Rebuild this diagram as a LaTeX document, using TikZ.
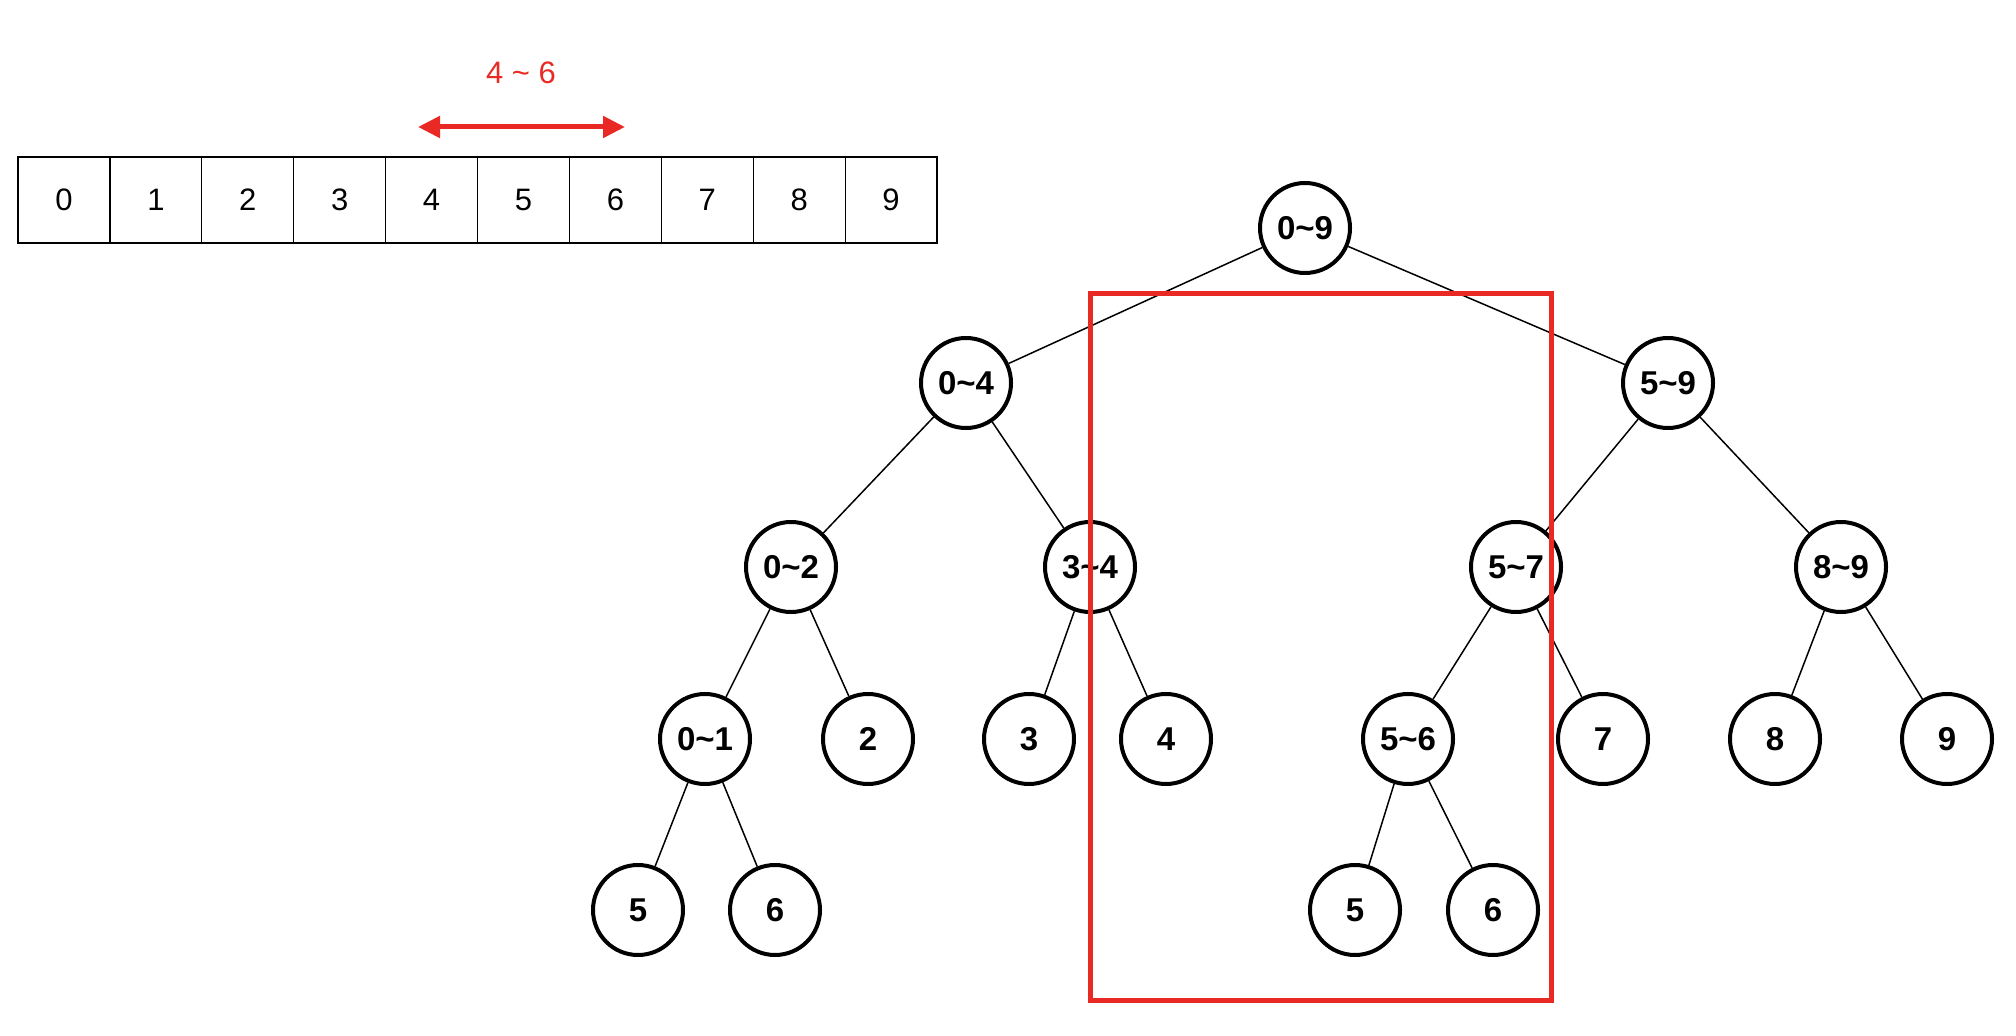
\documentclass[tikz,border=0pt]{standalone}
\usepackage{fontspec}
\setmainfont{Liberation Sans}
\usepackage{xcolor}
\usetikzlibrary{arrows.meta,positioning}
\definecolor{markred}{RGB}{233,41,35}

\begin{document}
\begin{tikzpicture}[
  x=0.5pt, y=-0.5pt,
  cell/.style={draw, line width=0.6pt, minimum width=45.95pt, minimum height=43pt, inner sep=0pt, font=\fontsize{15.5}{18}\selectfont},
  seg/.style={draw, circle, line width=2pt, minimum size=45pt, inner sep=0pt, font=\fontsize{16.5}{19}\selectfont\bfseries},
  link/.style={line width=0.75pt},
  spanarrow/.style={{Triangle[length=11pt,width=10.5pt]}-{Triangle[length=11pt,width=10.5pt]}, line width=2.5pt, markred},
  focus/.style={draw=markred, line width=2.5pt}
]
\useasboundingbox (0,0) rectangle (2016,1036);
% array 0..9
\foreach \i in {0,...,9}
  \node[cell] (c\i) at ({64+91.9*\i},200) {\i};
% query range
\coordinate (qleft) at (418,127);
\coordinate (qright) at (625,127);
\draw[spanarrow] (qleft) -- (qright);
\node[markred, font=\fontsize{15.5}{18}\selectfont] (qlabel) at (521,73) {4 \textasciitilde{} 6};
% segment tree
\node[seg] (n09) at (1305,228) {0\textasciitilde9};
\node[seg] (n04) at (966,383) {0\textasciitilde4};
\node[seg] (n59) at (1668,383) {5\textasciitilde9};
\node[seg] (n02) at (791,567) {0\textasciitilde2};
\node[seg] (n34) at (1090,567) {3\textasciitilde4};
\node[seg] (n57) at (1516,567) {5\textasciitilde7};
\node[seg] (n89) at (1841,567) {8\textasciitilde9};
\node[seg] (n01) at (705,739) {0\textasciitilde1};
\node[seg] (n2) at (868,739) {2};
\node[seg] (n3) at (1029,739) {3};
\node[seg] (n4) at (1166,739) {4};
\node[seg] (n56) at (1408,739) {5\textasciitilde6};
\node[seg] (n7) at (1603,739) {7};
\node[seg] (n8) at (1775,739) {8};
\node[seg] (n9) at (1947,739) {9};
\node[seg] (n5a) at (638,910) {5};
\node[seg] (n6a) at (775,910) {6};
\node[seg] (n5b) at (1355,910) {5};
\node[seg] (n6b) at (1493,910) {6};
\foreach \p/\c in {n09/n04, n09/n59, n04/n02, n04/n34, n59/n57, n59/n89,
    n02/n01, n02/n2, n34/n3, n34/n4, n57/n56, n57/n7, n89/n8, n89/n9,
    n01/n5a, n01/n6a, n56/n5b, n56/n6b}
  \draw[link] (\p) -- (\c);
% nodes covering 4~6
\draw[focus] (1090,294) rectangle (1551,1000);
\end{tikzpicture}
\end{document}
